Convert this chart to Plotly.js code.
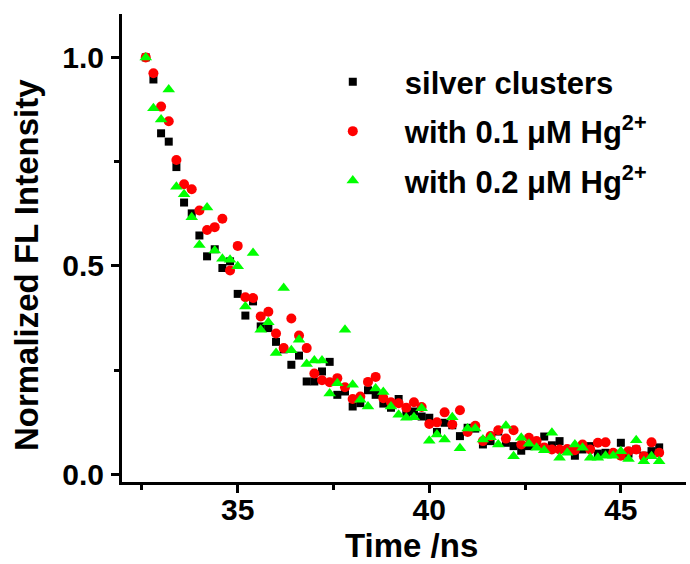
<!DOCTYPE html>
<html>
<head>
<meta charset="utf-8">
<script src="https://cdn.plot.ly/plotly-3.0.1.min.js"></script>
<style>html,body{margin:0;padding:0;background:#fff;}#chart{width:690px;height:564px;}</style>
</head>
<body>
<div id="chart"></div>
<script>
// Time axis (ns): channels every 0.2 ns from 32.6 to 46.0
var timeNs = [32.6,32.8,33.0,33.2,33.4,33.6,33.8,34.0,34.2,34.4,34.6,34.8,35.0,35.2,35.4,35.6,35.8,36.0,36.2,36.4,
  36.6,36.8,37.0,37.2,37.4,37.6,37.8,38.0,38.2,38.4,38.6,38.8,39.0,39.2,39.4,39.6,39.8,40.0,40.2,40.4,
  40.6,40.8,41.0,41.2,41.4,41.6,41.8,42.0,42.2,42.4,42.6,42.8,43.0,43.2,43.4,43.6,43.8,44.0,44.2,44.4,
  44.6,44.8,45.0,45.2,45.4,45.6,45.8,46.0];

var silverClusters = [1.0,0.947,0.818,0.798,0.737,0.652,0.626,0.573,0.523,0.540,0.495,0.511,0.433,0.381,0.415,0.355,0.351,0.318,0.300,0.263,
  0.285,0.223,0.223,0.247,0.270,0.191,0.199,0.163,0.171,0.202,0.191,0.170,0.160,0.181,0.148,0.151,0.139,0.136,0.102,0.124,
  0.118,0.092,0.112,0.110,0.072,0.080,0.103,0.076,0.068,0.057,0.068,0.072,0.091,0.070,0.080,0.058,0.045,0.060,0.068,0.050,
  0.052,0.050,0.076,0.050,0.060,0.045,0.056,0.065];

var hg01 = [1.0,0.962,0.882,0.847,0.754,0.696,0.684,0.633,0.586,0.593,0.613,0.489,0.548,0.425,0.423,0.379,0.390,0.338,0.303,0.374,
  0.333,0.303,0.242,0.226,0.221,0.231,0.209,0.181,0.187,0.222,0.234,0.183,0.173,0.171,0.160,0.173,0.162,0.121,0.125,0.149,
  0.120,0.154,0.102,0.117,0.080,0.092,0.106,0.086,0.106,0.072,0.088,0.080,0.065,0.060,0.060,0.061,0.058,0.072,0.060,0.076,
  0.077,0.052,0.045,0.056,0.060,0.044,0.077,0.052];

var hg02 = [1.0,0.878,0.851,0.923,0.690,0.672,0.617,0.550,0.640,0.537,0.517,0.515,0.499,0.403,0.531,0.347,0.365,0.291,0.447,0.298,
  0.323,0.265,0.273,0.273,0.194,0.219,0.347,0.215,0.179,0.163,0.206,0.198,0.163,0.143,0.136,0.137,0.159,0.081,0.096,0.084,
  0.137,0.063,0.110,0.110,0.084,0.089,0.072,0.117,0.044,0.088,0.074,0.064,0.058,0.100,0.040,0.052,0.072,0.064,0.040,0.040,
  0.045,0.045,0.056,0.037,0.082,0.032,0.044,0.032];

var seriesNames = ["silver clusters", "with 0.1 \u03BCM Hg<sup>2+</sup>", "with 0.2 \u03BCM Hg<sup>2+</sup>"];
var xTitle = "Time /ns";
var yTitle = "Normalized FL Intensity";

var FONT = "Liberation Sans, Arial, sans-serif";

var traces = [
  {x: timeNs, y: silverClusters, name: "<b>" + seriesNames[0] + "</b>", type: "scatter", mode: "markers",
   legendgroup: "a", marker: {symbol: "square", size: 8, color: "#000000"}},
  {x: timeNs, y: hg01, name: "<b>" + seriesNames[1] + "</b>", type: "scatter", mode: "markers",
   legendgroup: "b", marker: {symbol: "circle", size: 10, color: "#ff0000"}},
  {x: timeNs, y: hg02, name: "<b>" + seriesNames[2] + "</b>", type: "scatter", mode: "markers",
   legendgroup: "c", marker: {symbol: "triangle-up", size: 11, color: "#00ff00"}}
];

var layout = {
  width: 690, height: 564,
  margin: {l: 122, r: 4, t: 14, b: 82},
  paper_bgcolor: "#ffffff", plot_bgcolor: "#ffffff",
  showlegend: true,
  legend: {x: 0.317, y: 0.912, xanchor: "left", yanchor: "top", bgcolor: "rgba(0,0,0,0)",
           font: {family: FONT, size: 31, color: "#000"}, tracegroupgap: 6, itemsizing: "trace", itemwidth: 94},
  xaxis: {
    range: [31.98, 46.7], showgrid: false, zeroline: false,
    showline: true, linewidth: 3, linecolor: "#000", mirror: false,
    ticks: "outside", ticklen: 8, tickwidth: 3, tickcolor: "#000",
    tickvals: [35, 40, 45], ticktext: ["35", "40", "45"],
    minor: {tickvals: [32.5, 37.5, 42.5], ticks: "outside", ticklen: 5, tickwidth: 3, tickcolor: "#000"},
    tickfont: {family: FONT, size: 30, color: "#000", weight: "bold"},
    ticklabelstandoff: -9
  },
  yaxis: {
    range: [-0.018, 1.104], showgrid: false, zeroline: false,
    showline: true, linewidth: 3, linecolor: "#000", mirror: false,
    ticks: "outside", ticklen: 8, tickwidth: 3, tickcolor: "#000",
    tickvals: [0, 0.5, 1.0], ticktext: ["0.0", "0.5", "1.0"],
    minor: {tickvals: [0.25, 0.75], ticks: "outside", ticklen: 5, tickwidth: 3, tickcolor: "#000"},
    tickfont: {family: FONT, size: 30, color: "#000", weight: "bold"},
    ticklabelstandoff: 1
  },
  annotations: [
    {text: "<b>" + xTitle + "</b>", xref: "paper", yref: "paper", x: 0.514, y: -0.135,
     xanchor: "center", yanchor: "middle", showarrow: false, font: {family: FONT, size: 33, color: "#000"}},
    {text: "<b>" + yTitle + "</b>", xref: "paper", yref: "paper", x: -0.168, y: 0.464, textangle: -90,
     xanchor: "center", yanchor: "middle", showarrow: false, font: {family: FONT, size: 33, color: "#000"}}
  ]
};

Plotly.newPlot("chart", traces, layout, {displayModeBar: false, staticPlot: true});
</script>
</body>
</html>
